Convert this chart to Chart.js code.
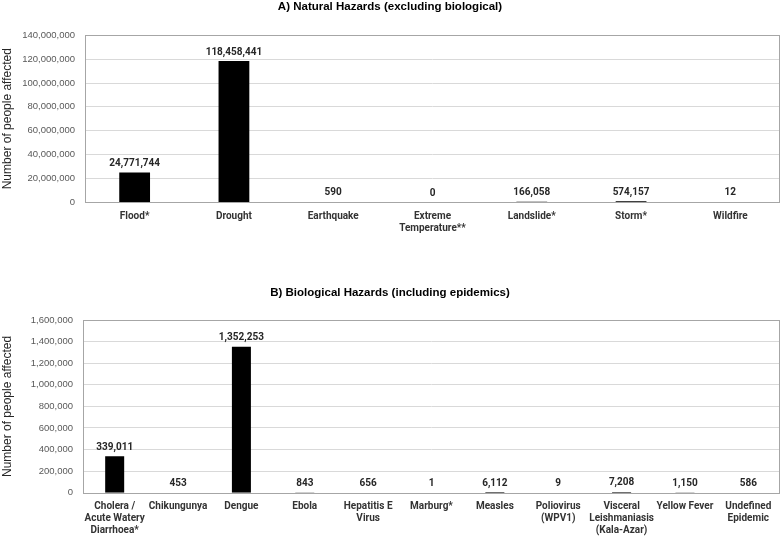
<!DOCTYPE html>
<html>
<head>
<meta charset="utf-8">
<script src="https://cdn.jsdelivr.net/npm/chart.js@4/dist/chart.umd.min.js"></script>
<style>
  html, body { margin: 0; padding: 0; background: #fff; }
  .wrap { position: absolute; left: 0; width: 784px; }
  #wrapA { top: 0; height: 245px; }
  #wrapB { top: 260px; height: 277px; }
</style>
</head>
<body>
<div class="wrap" id="wrapA"><canvas id="chartA"></canvas></div>
<div class="wrap" id="wrapB"><canvas id="chartB"></canvas></div>
<script>
/* ---- data: natural hazards ---- */
const natLabels = ['Flood*', 'Drought', 'Earthquake', ['Extreme', 'Temperature**'], 'Landslide*', 'Storm*', 'Wildfire'];
const natValues = [24771744, 118458441, 590, 0, 166058, 574157, 12];
const natTicks = { min: 0, max: 140000000, step: 20000000 };

/* ---- data: biological hazards ---- */
const bioLabels = [
  ['Cholera /', 'Acute Watery', 'Diarrhoea*'], 'Chikungunya', 'Dengue', 'Ebola', ['Hepatitis E', 'Virus'],
  'Marburg*', 'Measles', ['Poliovirus', '(WPV1)'], ['Visceral', 'Leishmaniasis', '(Kala-Azar)'],
  'Yellow Fever', ['Undefined', 'Epidemic']
];
const bioValues = [339011, 453, 1352253, 843, 656, 1, 6112, 9, 7208, 1150, 586];
const bioTicks = { min: 0, max: 1600000, step: 200000 };

const fmt = v => v.toLocaleString('en-US');

// border around the plot area (Excel style)
const plotBorder = {
  id: 'plotBorder',
  afterDraw(chart) {
    const { ctx, chartArea: a } = chart;
    ctx.save();
    ctx.strokeStyle = '#a6a6a6';
    ctx.lineWidth = 1;
    ctx.strokeRect(Math.round(a.left) + 0.5, Math.round(a.top) + 0.5,
                   Math.round(a.right - a.left) - 1, Math.round(a.bottom - a.top));
    ctx.restore();
  }
};

// value labels above bars
const valueLabels = {
  id: 'valueLabels',
  afterDatasetsDraw(chart) {
    const { ctx } = chart;
    const meta = chart.getDatasetMeta(0);
    const data = chart.data.datasets[0].data;
    ctx.save();
    ctx.font = 'bold 10px Roboto';
    ctx.fillStyle = '#262626';
    ctx.textAlign = 'center';
    ctx.textBaseline = 'middle';
    meta.data.forEach((bar, i) => {
      ctx.fillText(fmt(data[i]), bar.x, bar.y - 9);
    });
    ctx.restore();
  }
};

function makeChart(id, title, labels, values, ticks, opts) {
  return new Chart(document.getElementById(id), {
    type: 'bar',
    data: {
      labels: labels,
      datasets: [{
        data: values,
        backgroundColor: '#000000',
        categoryPercentage: 1,
        barPercentage: opts.barPct,
        inflateAmount: 0,
      }],
    },
    options: {
      responsive: true,
      maintainAspectRatio: false,
      animation: false,
      layout: { padding: { top: opts.padTop, right: 4, left: 0, bottom: 0 } },
      plugins: {
        legend: { display: false },
        tooltip: { enabled: false },
        title: {
          display: true,
          text: title,
          color: '#000',
          font: { family: 'Liberation Sans', size: 11.5, weight: 'bold', lineHeight: 1.2 },
          padding: { top: 0, bottom: opts.titleGap },
        },
      },
      scales: {
        x: {
          grid: { display: false, drawTicks: false },
          border: { display: false },
          ticks: {
            color: '#333',
            font: { family: 'Roboto', size: 10, weight: 'bold', lineHeight: 1.2 },
            padding: 8,
            maxRotation: 0,
            autoSkip: false,
          },
          afterFit(s) { s.height = opts.xHeight; },
        },
        y: {
          min: ticks.min,
          max: ticks.max,
          grid: {
            color: '#d9d9d9',
            drawTicks: false,
            // the base line is drawn by the border plugin
            lineWidth: c => (c.tick && c.tick.value === 0 ? 0 : 1),
          },
          border: { display: false },
          ticks: {
            stepSize: ticks.step,
            color: '#595959',
            font: { family: 'Liberation Sans', size: 9.5 },
            padding: 10,
            callback: v => fmt(v),
          },
          title: {
            display: true,
            text: 'Number of people affected',
            color: '#262626',
            font: { family: 'Liberation Sans', size: 12 },
            padding: 0,
          },
          afterFit(s) { s.width = opts.yWidth; },
        },
      },
    },
    plugins: [plotBorder, valueLabels],
  });
}

makeChart('chartA', 'A) Natural Hazards (excluding biological)', natLabels, natValues, natTicks,
  { barPct: 0.31, padTop: 0, titleGap: 21.6, xHeight: 43, yWidth: 85 });
makeChart('chartB', 'B) Biological Hazards (including epidemics)', bioLabels, bioValues, bioTicks,
  { barPct: 0.3, padTop: 25.5, titleGap: 20.8, xHeight: 44.3, yWidth: 83 });
</script>
</body>
</html>
